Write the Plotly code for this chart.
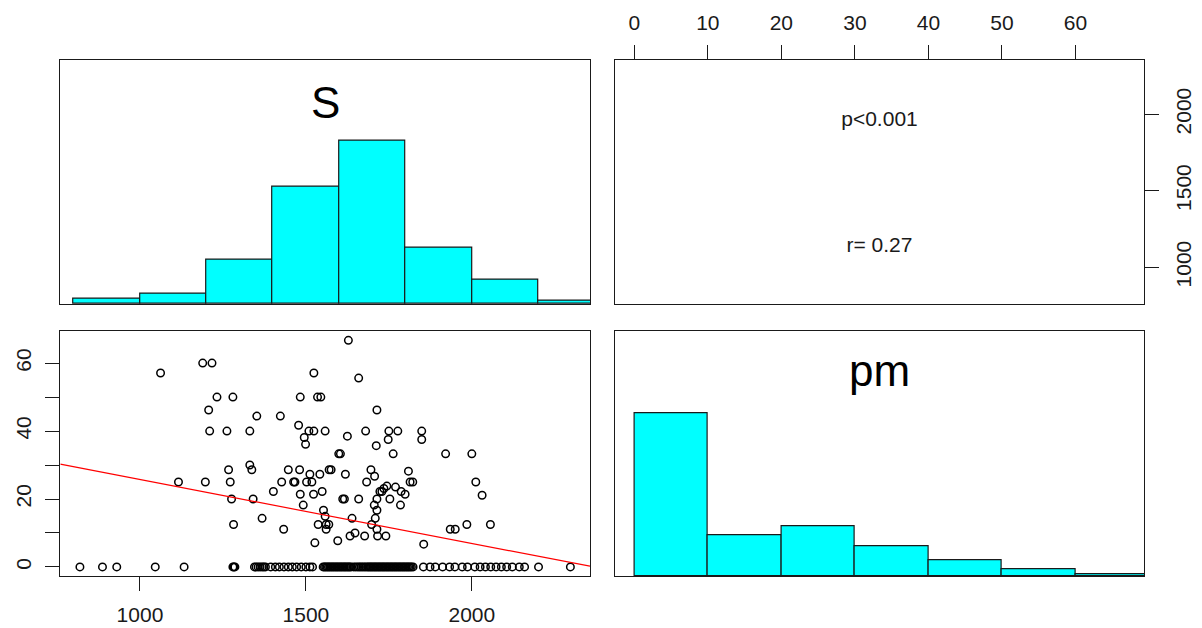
import plotly.graph_objects as go

# ---- data -------------------------------------------------------------
# S / pm observations with pm > 0
s_points = [1062, 1189, 1217, 1232, 1207, 1210, 1262, 1280, 1116, 1197, 1267, 1272,
            1276, 1282, 1331, 1352, 1331, 1337, 1341, 1368, 1402, 1423, 1427, 1433,
            1447, 1463, 1467, 1478, 1483, 1481, 1483, 1495, 1499, 1492, 1502, 1509,
            1512, 1518, 1523, 1524, 1524, 1527, 1535, 1545, 1542, 1537, 1549, 1558,
            1553, 1558, 1561, 1561, 1570, 1576, 1569, 1596, 1599, 1604, 1611, 1616,
            1619, 1625, 1628, 1633, 1639, 1648, 1659, 1659, 1677, 1680, 1683, 1696,
            1698, 1706, 1707, 1712, 1714, 1714, 1714, 1709, 1714, 1716, 1723, 1729,
            1741, 1735, 1744, 1748, 1750, 1753, 1763, 1770, 1777, 1787, 1785, 1799,
            1809, 1814, 1822, 1849, 1849, 1855, 1921, 1935, 1950, 1985, 2000, 2012,
            2031, 2056]
pm_points = [57.1, 60, 60, 50, 46.2, 40, 40, 50, 25, 25, 28.6, 25,
             20, 12.5, 40, 44.4, 30, 28.6, 20, 14.3, 22.2, 44.4, 25, 11.1,
             28.6, 25, 25, 41.7, 50, 28.6, 21.4, 38.1, 36.1, 18.2, 25, 40,
             27.3, 25, 21.4, 40, 57.1, 7.1, 50, 50, 27.3, 12.5, 22.2, 40,
             16.7, 14.9, 12.5, 11.1, 28.6, 28.6, 12.5, 7.7, 33.3, 33.3, 20, 20,
             27.3, 38.5, 66.7, 9.1, 14.3, 10, 20, 55.6, 9.1, 40, 25, 28.6,
             12.5, 18.2, 26.7, 35.7, 46.2, 16.7, 20, 14.3, 11.1, 9.1, 22.2, 22.2,
             9.1, 23.1, 23.8, 37.5, 40, 20, 33.3, 23.5, 40, 22.2, 18.2, 21.4,
             28.2, 25, 25, 40, 37.5, 6.7, 33.3, 11.1, 11.1, 12.5, 33.3, 25,
             21.1, 12.5]

# S values of the observations with pm == 0
s_at_zero = [819, 887, 930, 1046, 1133,
             1280, 1283, 1286,
             1345, 1350, 1356, 1362, 1368, 1373, 1378,
             1394, 1408, 1420, 1434, 1447, 1459, 1472, 1486, 1500, 1512, 1520,
             1552, 1556, 1560, 1564, 1568, 1572, 1576, 1580, 1584, 1588, 1592, 1596,
             1600, 1604, 1608, 1612, 1616, 1620, 1624, 1628, 1632, 1636, 1644, 1650,
             1656, 1661, 1666, 1671, 1676, 1681, 1686, 1690, 1694, 1698, 1702, 1706,
             1710, 1714, 1718, 1722, 1726, 1730, 1734, 1738, 1742, 1746, 1750, 1754,
             1758, 1762, 1766, 1770, 1774, 1778, 1782, 1786, 1790, 1794, 1798,
             1802, 1806, 1810, 1814, 1818, 1823,
             1854, 1874, 1890, 1912, 1933, 1949, 1971, 1987,
             2009, 2025, 2041, 2057, 2073, 2089, 2105, 2122, 2143, 2159,
             2201, 2297]

# histogram bins and counts
s_breaks = [800, 1000, 1200, 1400, 1600, 1800, 2000, 2200, 2400]
s_counts = [3, 6, 25, 66, 92, 32, 14, 2]
pm_breaks = [0, 10, 20, 30, 40, 50, 60, 70]
pm_counts = [128, 32, 39, 23, 12, 5, 1]

# least-squares line pm ~ S
lm_intercept = 44.6
lm_slope = -0.01884

# axis ticks
s_ticks = [1000, 1500, 2000]
pm_ticks = [0, 10, 20, 30, 40, 50, 60]
pm_ticks_left_text = ["0", "", "20", "", "40", "", "60"]

# correlation panel text and its vertical placement (fraction of panel height)
cor_labels = ["p<0.001", "r= 0.27"]
cor_label_pos = [0.749, 0.235]

# ---- helpers ----------------------------------------------------------
def padded(vals, frac=0.04):
    lo, hi = min(vals), max(vals)
    d = (hi - lo) * frac
    return [lo - d, hi + d]

all_s = s_points + s_at_zero
all_pm = pm_points + [0] * len(s_at_zero)
S_RANGE = padded(all_s)
PM_RANGE = padded(all_pm)

W, H = 1202, 628
xL = [60.3 / W, 590 / W]
xR = [614.7 / W, 1144.3 / W]
yT = [1 - 304 / H, 1 - 59.7 / H]
yB = [1 - 576 / H, 1 - 331.3 / H]

FONT = "Liberation Sans, Arial, sans-serif"
INK = "#1a1a1a"

def hist_trace(breaks, counts, xa, ya):
    mids = [(a + b) / 2 for a, b in zip(breaks[:-1], breaks[1:])]
    widths = [b - a for a, b in zip(breaks[:-1], breaks[1:])]
    top = max(counts)
    return go.Bar(x=mids, y=[c / top for c in counts], width=widths,
                  marker=dict(color="#00FFFF", line=dict(color=INK, width=1.2)),
                  xaxis=xa, yaxis=ya, hoverinfo="skip")

fig = go.Figure()

# top-left: histogram of S
fig.add_trace(hist_trace(s_breaks, s_counts, "x2", "y2"))
# bottom-right: histogram of pm
fig.add_trace(hist_trace(pm_breaks, pm_counts, "x4", "y4"))

# bottom-left: scatter pm vs S with fitted line
fig.add_trace(go.Scatter(x=all_s, y=all_pm, mode="markers",
                         marker=dict(symbol="circle-open", size=7.5,
                                     color="black", line=dict(width=1.5)),
                         xaxis="x", yaxis="y", hoverinfo="skip"))
fig.add_trace(go.Scatter(x=S_RANGE,
                         y=[lm_intercept + lm_slope * v for v in S_RANGE],
                         mode="lines", line=dict(color="red", width=1.2),
                         xaxis="x", yaxis="y", hoverinfo="skip"))

# top-right: correlation text panel
pm_mid = (PM_RANGE[0] + PM_RANGE[1]) / 2
s_span = S_RANGE[1] - S_RANGE[0]
fig.add_trace(go.Scatter(x=[pm_mid] * len(cor_labels),
                         y=[S_RANGE[0] + f * s_span for f in cor_label_pos],
                         mode="text", text=cor_labels, textposition="middle center",
                         textfont=dict(family=FONT, size=21, color=INK),
                         xaxis="x3", yaxis="y3", hoverinfo="skip"))

box = dict(showline=True, linecolor=INK, linewidth=1.2, mirror=True,
           showgrid=False, zeroline=False)
tick = dict(ticks="outside", ticklen=14, tickwidth=1.2, tickcolor=INK,
            tickfont=dict(family=FONT, size=21, color=INK))
blank = dict(ticks="", showticklabels=False)

fig.update_layout(
    width=W, height=H,
    margin=dict(l=0, r=0, t=0, b=0),
    paper_bgcolor="white", plot_bgcolor="white",
    showlegend=False, bargap=0,
    xaxis=dict(domain=xL, anchor="y", range=S_RANGE, tickvals=s_ticks,
               ticklabelstandoff=6, **box, **tick),
    yaxis=dict(domain=yB, anchor="x", range=PM_RANGE, tickvals=pm_ticks,
               ticktext=pm_ticks_left_text, tickangle=-90,
               ticklabelstandoff=6, **box, **tick),
    xaxis2=dict(domain=xL, anchor="y2", range=S_RANGE, **box, **blank),
    yaxis2=dict(domain=yT, anchor="x2", range=[0, 1.5], **box, **blank),
    xaxis3=dict(domain=xR, anchor="y3", side="top", range=PM_RANGE,
                tickvals=pm_ticks, ticklabelstandoff=6, **box, **tick),
    yaxis3=dict(domain=yT, anchor="x3", side="right", range=S_RANGE,
                tickvals=s_ticks, tickangle=-90, ticklabelstandoff=6,
                **box, **tick),
    xaxis4=dict(domain=xR, anchor="y4", range=PM_RANGE, **box, **blank),
    yaxis4=dict(domain=yB, anchor="x4", range=[0, 1.5], **box, **blank),
    annotations=[
        dict(text="S", xref="x2 domain", yref="y2 domain", x=0.5, y=0.825,
             xanchor="center", yanchor="middle", showarrow=False,
             font=dict(family=FONT, size=44, color="black")),
        dict(text="pm", xref="x4 domain", yref="y4 domain", x=0.5, y=0.84,
             xanchor="center", yanchor="middle", showarrow=False,
             font=dict(family=FONT, size=44, color="black")),
    ],
)

fig.write_html("out.html")
